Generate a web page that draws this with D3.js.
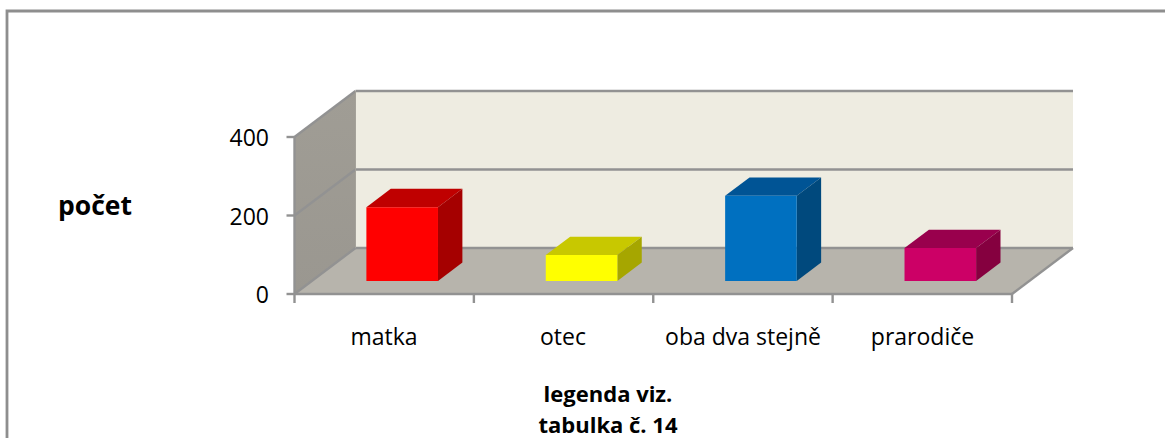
<!DOCTYPE html>
<html><head><meta charset="utf-8">
<script src="https://cdnjs.cloudflare.com/ajax/libs/d3/7.8.5/d3.min.js"></script>
<style>html,body{margin:0;padding:0;background:#fff;overflow:hidden}svg{display:block}text{font-family:"Open Sans",sans-serif;fill:#000}</style>
</head><body><svg id="c" width="1165" height="438"></svg>
<script>
const categories = ["matka","otec","oba dva stejně","prarodiče"];
const values = [188,66,217,84];
const faceColors = ["#ff0000","#ffff00","#0070c0","#cc0066"];
const topColors = ["#bf0000","#c8c800","#005495","#99004d"];
const sideColors = ["#a50000","#a6a600","#00497d","#85003f"];
const yTicks = [0,200,400];
const titleLines = ["legenda viz.","tabulka č. 14"];

const svg = d3.select("#c");
const grey = "#929292";
const y = d3.scaleLinear().domain([0,400]).range([294,137]);
const x = d3.scaleBand().domain(categories).range([294.5,1012]);
const depth = {x:61,y:-46}, barShift = {x:18,y:-13}, barDepth = {x:24.4,y:-18.4};
const barW = 71.6;
const xL = 294.5, xR = 1012;
const poly = (pts,fill)=>svg.append("polygon").attr("points",pts.map(p=>p.join(",")).join(" ")).attr("fill",fill);
const line = (x1,y1,x2,y2,c,w)=>svg.append("line").attr("x1",x1).attr("y1",y1).attr("x2",x2).attr("y2",y2).attr("stroke",c||grey).attr("stroke-width",w||2.4);

// frame
svg.append("path").attr("d","M7,438V11H1165").attr("fill","none").attr("stroke","#8e8e8e").attr("stroke-width",2.8);

// walls
const yTop=y(400), y0=y(0);
poly([[xL+depth.x,yTop+depth.y],[xR+depth.x,yTop+depth.y],[xR+depth.x,y0+depth.y],[xL+depth.x,y0+depth.y]],"#eeece1");
const sideGrad = svg.append("defs").append("linearGradient").attr("id","side").attr("x1",0).attr("x2",0).attr("y1",0).attr("y2",1);
sideGrad.append("stop").attr("offset",0).attr("stop-color","#a09d95");
sideGrad.append("stop").attr("offset",1).attr("stop-color","#9a9790");
poly([[xL,yTop],[xL+depth.x,yTop+depth.y],[xL+depth.x,y0+depth.y],[xL,y0]],"url(#side)");
poly([[xL,y0],[xL+depth.x,y0+depth.y],[xR+depth.x,y0+depth.y],[xR,y0]],"#b7b4ac");

// gridlines
yTicks.forEach(t=>{
  const v=y(t);
  line(xL,v,xL+depth.x,v+depth.y);
  line(xL+depth.x,v+depth.y,xR+depth.x,v+depth.y);
  line(xL-8,v,xL,v);
  svg.append("text").attr("x",269).attr("y",v+9).attr("text-anchor","end").attr("font-size",23).text(t);
});
line(xL,yTop-1,xL,y0+1);
line(xL+depth.x,yTop+depth.y,xL+depth.x,y0+depth.y,"#a5a29a",1);
line(xL,y0,xR,y0);
line(xR,y0,xR+depth.x,y0+depth.y);

// x ticks
d3.range(categories.length+1).map(i=>xL+i*x.step()).forEach(px=>line(px,y0,px,303));

// bars
categories.forEach((c,i)=>{
  const left = x(c)+(x.bandwidth()-barW)/2+barShift.x;
  const right = left+barW;
  const bot = y(0)+barShift.y;
  const top = y(values[i])+barShift.y;
  const dx=barDepth.x, dy=barDepth.y;
  poly([[left,top],[right,top],[right+dx,top+dy],[left+dx,top+dy]],topColors[i]);
  poly([[right,top],[right+dx,top+dy],[right+dx,bot+dy],[right,bot]],sideColors[i]);
  poly([[left,top],[right,top],[right,bot],[left,bot]],faceColors[i]);
});

// labels
const labelX=[384,563,743,922.5];
categories.forEach((c,i)=>svg.append("text").attr("x",labelX[i]).attr("y",345).attr("text-anchor","middle").attr("font-size",23).text(c));
svg.append("text").attr("x",95).attr("y",215).attr("text-anchor","middle").attr("font-size",26.5).attr("font-weight",700).text("počet");
titleLines.forEach((t,i)=>svg.append("text").attr("x",608).attr("y",402+i*31).attr("text-anchor","middle").attr("font-size",22).attr("font-weight",700).text(t));
</script></body></html>
